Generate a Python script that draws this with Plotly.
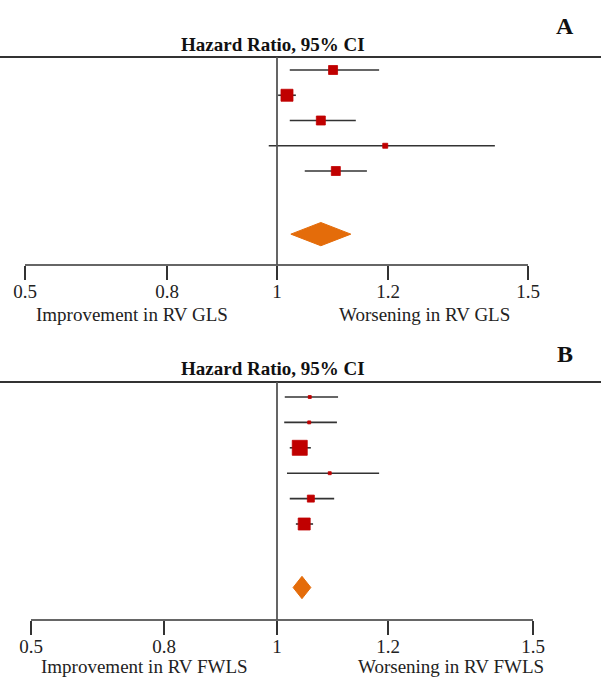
import numpy as np
import plotly.graph_objects as go

W, H = 601, 678

# ---------------- data ----------------
TICK_HR = [0.5, 0.8, 1, 1.2, 1.5]
TICK_TEXT = ["0.5", "0.8", "1", "1.2", "1.5"]

# Panel A (RV GLS)
A_EST = [1.101, 1.018, 1.079, 1.195, 1.106]
A_LO = [1.023, 1.002, 1.023, 0.985, 1.050]
A_HI = [1.184, 1.034, 1.142, 1.429, 1.162]
A_WEIGHT = [9, 12, 9, 5, 9]
A_POOLED = (1.079, 1.025, 1.133)  # est, lo, hi

# Panel B (RV FWLS)
B_EST = [1.059, 1.058, 1.041, 1.095, 1.061, 1.049]
B_LO = [1.014, 1.013, 1.023, 1.018, 1.023, 1.034]
B_HI = [1.110, 1.108, 1.061, 1.184, 1.103, 1.065]
B_WEIGHT = [3, 3, 15, 3, 7, 12]
B_POOLED = (1.045, 1.029, 1.061)

# axis scale of each panel (screen position of each tick)
A_SCALE = [25, 167, 277, 388, 528]
B_SCALE = [31, 164, 277, 388, 533]

SQ = "#c00000"
DIA = "#e46c0a"
LN = "#333333"
FONT = "Liberation Serif"


def py2paper(p):
    return 1 - p / H


fig = go.Figure()

panels = [
    dict(est=A_EST, lo=A_LO, hi=A_HI, w=A_WEIGHT, pooled=A_POOLED, scale=A_SCALE,
         top=57, bottom=265, row0=70, rowstep=25.25, dh=0.46,
         xa="x", ya="y", letter="A", letter_y=26, title_y=44,
         sub_y=314,
         sub_left=("Improvement in RV GLS", 132), sub_right=("Worsening in RV GLS", 424)),
    dict(est=B_EST, lo=B_LO, hi=B_HI, w=B_WEIGHT, pooled=B_POOLED, scale=B_SCALE,
         top=382, bottom=620, row0=397, rowstep=25.4, dh=0.44,
         xa="x2", ya="y2", letter="B", letter_y=354, title_y=368,
         sub_y=666,
         sub_left=("Improvement in RV FWLS", 144), sub_right=("Worsening in RV FWLS", 451)),
]

layout_axes = {}
shapes = []
annotations = []

for i, P in enumerate(panels):
    sc = P["scale"]

    def pos(v, sc=sc):
        return np.interp(v, TICK_HR, sc)

    n = len(P["est"])
    rows = np.arange(n, dtype=float)
    est = pos(np.array(P["est"]))
    lo = pos(np.array(P["lo"]))
    hi = pos(np.array(P["hi"]))

    # CI lines
    xs, ys = [], []
    for r, a, b in zip(rows, lo, hi):
        xs += [a, b, None]
        ys += [r, r, None]
    fig.add_trace(go.Scatter(x=xs, y=ys, mode="lines", line=dict(color=LN, width=1.6),
                             xaxis=P["xa"], yaxis=P["ya"], showlegend=False, hoverinfo="skip"))
    # squares
    fig.add_trace(go.Scatter(x=est, y=rows, mode="markers",
                             marker=dict(symbol="square", size=[w * 1.0 for w in P["w"]],
                                         color=SQ, opacity=1, line=dict(width=0.8, color=SQ)),
                             xaxis=P["xa"], yaxis=P["ya"], showlegend=False))
    # pooled diamond
    pe, pl, ph = [float(pos(v)) for v in P["pooled"]]
    yr = n + 1.5
    dh = P["dh"]
    fig.add_trace(go.Scatter(x=[pl, pe, ph, pe, pl], y=[yr, yr - dh, yr, yr + dh, yr],
                             mode="lines", fill="toself", fillcolor=DIA,
                             line=dict(color=DIA, width=1),
                             xaxis=P["xa"], yaxis=P["ya"], showlegend=False))

    top, bottom = P["top"], P["bottom"]
    r_top = (top - P["row0"]) / P["rowstep"]
    r_bot = (bottom - P["row0"]) / P["rowstep"]
    suffix = "" if i == 0 else "2"
    layout_axes["xaxis" + suffix] = dict(
        domain=[0, 1], range=[0, W], tickmode="array", tickvals=list(pos(np.array(TICK_HR))),
        ticktext=TICK_TEXT, ticks="outside", ticklen=14, tickwidth=1.6, tickcolor=LN,
        ticklabelstandoff=-5,
        showline=False, showgrid=False, zeroline=False,
        tickfont=dict(family=FONT, size=19, color="#222"),
        anchor="y" + suffix, fixedrange=True)
    layout_axes["yaxis" + suffix] = dict(
        domain=[py2paper(bottom), py2paper(top)], range=[r_bot, r_top],
        showticklabels=False, showgrid=False, zeroline=False, showline=False,
        anchor="x" + suffix, fixedrange=True)

    xref = P["xa"]
    yref_dom = P["ya"] + " domain"
    # top line
    shapes.append(dict(type="line", xref="paper", yref=yref_dom, x0=0, x1=1, y0=1, y1=1,
                       line=dict(color=LN, width=1.8)))
    # axis line
    shapes.append(dict(type="line", xref=xref, yref=yref_dom, x0=sc[0], x1=sc[-1], y0=0, y1=0,
                       line=dict(color=LN, width=1.6)))
    # reference line at HR = 1
    x1 = float(pos(1.0))
    shapes.append(dict(type="line", xref=xref, yref=yref_dom, x0=x1, x1=x1, y0=0, y1=1,
                       line=dict(color="#555555", width=1.8)))

    annotations.append(dict(text="<b>Hazard Ratio, 95% CI</b>", xref=xref, yref="paper",
                            x=273, y=py2paper(P["title_y"]), xanchor="center", yanchor="middle",
                            showarrow=False, font=dict(family=FONT, size=19, color="#111")))
    annotations.append(dict(text="<b>" + P["letter"] + "</b>", xref="paper", yref="paper",
                            x=565 / W, y=py2paper(P["letter_y"]), xanchor="center",
                            yanchor="middle", showarrow=False,
                            font=dict(family=FONT, size=24, color="#111")))
    for (txt, cx) in (P["sub_left"], P["sub_right"]):
        annotations.append(dict(text=txt, xref=xref, yref="paper", x=cx,
                                y=py2paper(P["sub_y"]), xanchor="center", yanchor="middle",
                                showarrow=False,
                                font=dict(family=FONT, size=19, color="#222")))

fig.update_layout(
    width=W, height=H, margin=dict(l=0, r=0, t=0, b=0),
    paper_bgcolor="white", plot_bgcolor="white",
    shapes=shapes, annotations=annotations, **layout_axes)

fig.write_html("out.html")
